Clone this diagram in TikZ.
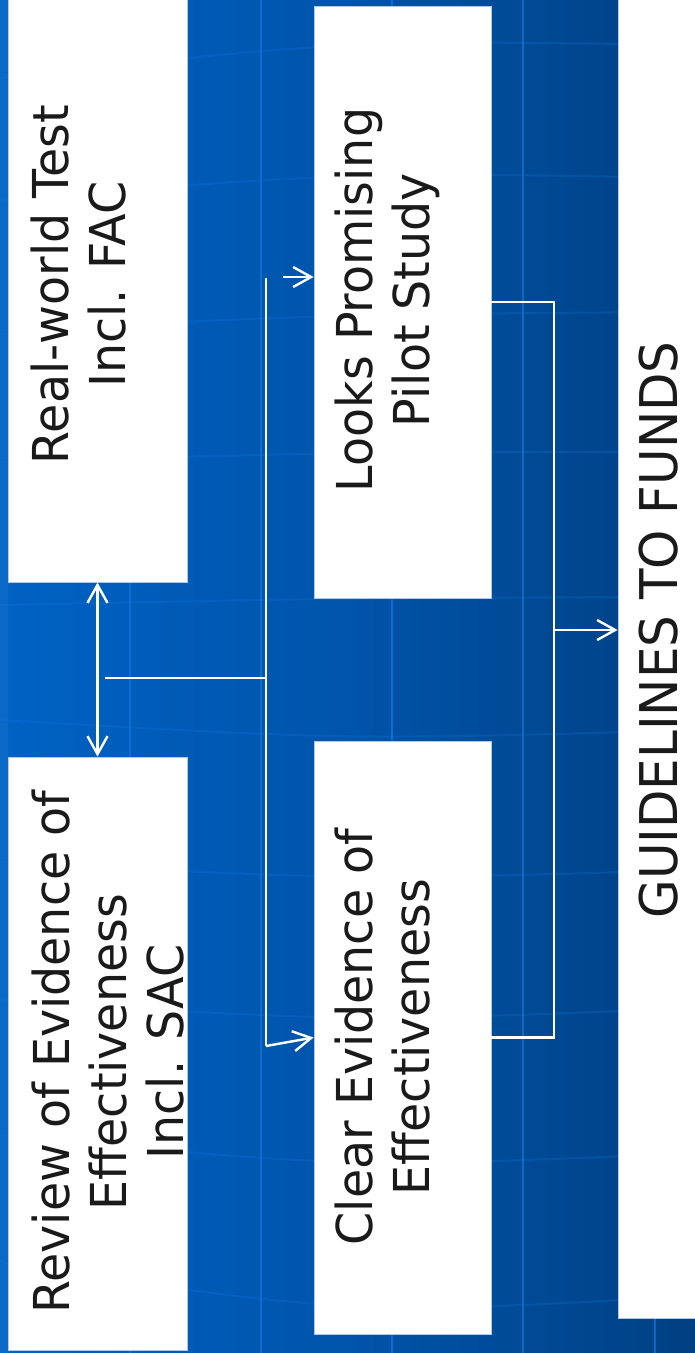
\documentclass[tikz,border=0pt]{standalone}
\usepackage{fontspec}
\setmainfont{DejaVu Sans}[FakeStretch=0.96]
\usetikzlibrary{arrows.meta}
\definecolor{bgL}{RGB}{0,98,196}
\definecolor{bgM}{RGB}{0,84,170}
\definecolor{bgR}{RGB}{0,64,130}
\definecolor{gridc}{RGB}{20,118,228}
\definecolor{edgec}{RGB}{175,200,232}
\definecolor{txt}{RGB}{26,26,26}
\tikzset{
  box/.style={draw=edgec, line width=0.8pt, fill=white, inner sep=0pt},
  lbl/.style={rotate=90, anchor=north, align=center, inner sep=0pt, text=txt,
              font=\fontsize{49.5}{57}\selectfont},
  conn/.style={draw=white, line width=2.4pt},
  arr/.style={conn, -{Straight Barb[length=18pt,width=20pt]}},
  darr/.style={conn, {Straight Barb[length=18pt,width=20pt]}-{Straight Barb[length=18pt,width=20pt]}},
  vgrid/.style={draw=gridc, line width=2.5pt, opacity=0.7},
  hgrid/.style={draw=gridc, line width=2pt, opacity=0.25}
}
\begin{document}
\begin{tikzpicture}[x=1pt,y=-1pt]
\useasboundingbox (0,0) rectangle (695,1353);
\clip (0,0) rectangle (695,1353);
% background
\shade[left color=bgL, right color=bgR, middle color=bgM] (0,0) rectangle (695,1353);
\fill[bgL!96!white] (0,0) rectangle (8,1353);
% faint grid
\foreach \gx in {130,261,392,523,655} { \draw[vgrid] (\gx,0) -- (\gx,1353); }
\draw[hgrid] (0,78) .. controls (350,40) .. (695,45);
\draw[hgrid] (0,200) .. controls (350,172) .. (695,178);
\draw[hgrid] (0,330) .. controls (350,314) .. (695,312);
\draw[hgrid] (0,462) .. controls (350,452) .. (695,452);
\draw[hgrid] (0,605) .. controls (350,598) .. (695,597);
\draw[hgrid] (0,720) .. controls (350,740) .. (695,730);
\draw[hgrid] (0,862) .. controls (350,880) .. (695,870);
\draw[hgrid] (0,1000) .. controls (350,1022) .. (695,1008);
\draw[hgrid] (0,1135) .. controls (350,1168) .. (695,1153);
\draw[hgrid] (0,1262) .. controls (350,1315) .. (695,1296);
% boxes
\node[box, minimum width=179pt, minimum height=596pt] (A) at (97.5,284) {};
\node[box, minimum width=179pt, minimum height=593pt] (B) at (97.5,1053.5) {};
\node[box, minimum width=177pt, minimum height=592pt] (C) at (402.5,302) {};
\node[box, minimum width=177pt, minimum height=593pt] (D) at (402.5,1037.5) {};
\node[box, minimum width=157pt, minimum height=1376pt] (E) at (696.5,630) {};
% labels
\node[lbl] (tA) at (31,284.5) {Real-world Test\\Incl. FAC};
\node[lbl] (tB) at (31.5,1052) {Review of Evidence of\\Effectiveness\\Incl. SAC};
\node[lbl] (tC) at (334.5,300) {Looks Promising\\Pilot Study};
\node[lbl] (tD) at (334.5,1037) {Clear Evidence of\\Effectiveness};
\node[lbl, font=\fontsize{52}{60}\selectfont] (tE) at (639,630) {GUIDELINES TO FUNDS};
% connector points
\coordinate (hs) at (105,678);
\coordinate (hm) at (266,678);
\coordinate (vt) at (266,278);
\coordinate (vb) at (266,1046);
\coordinate (ct) at (283,277);
\coordinate (rt) at (554,302);
\coordinate (rb) at (554,1037.5);
\coordinate (rm) at (554,630);
% connectors
\draw[darr] (A.south) -- (B.north);
\draw[conn] (hs) -- (hm);
\draw[conn] (vt) -- (vb);
\draw[arr] (ct) -- (ct -| C.west);
\draw[arr] (vb) -- (D.west);
\draw[conn] (C.east) -- (rt) -- (rb) -- (D.east);
\draw[arr] (rm) -- (rm -| E.west);
\end{tikzpicture}
\end{document}
